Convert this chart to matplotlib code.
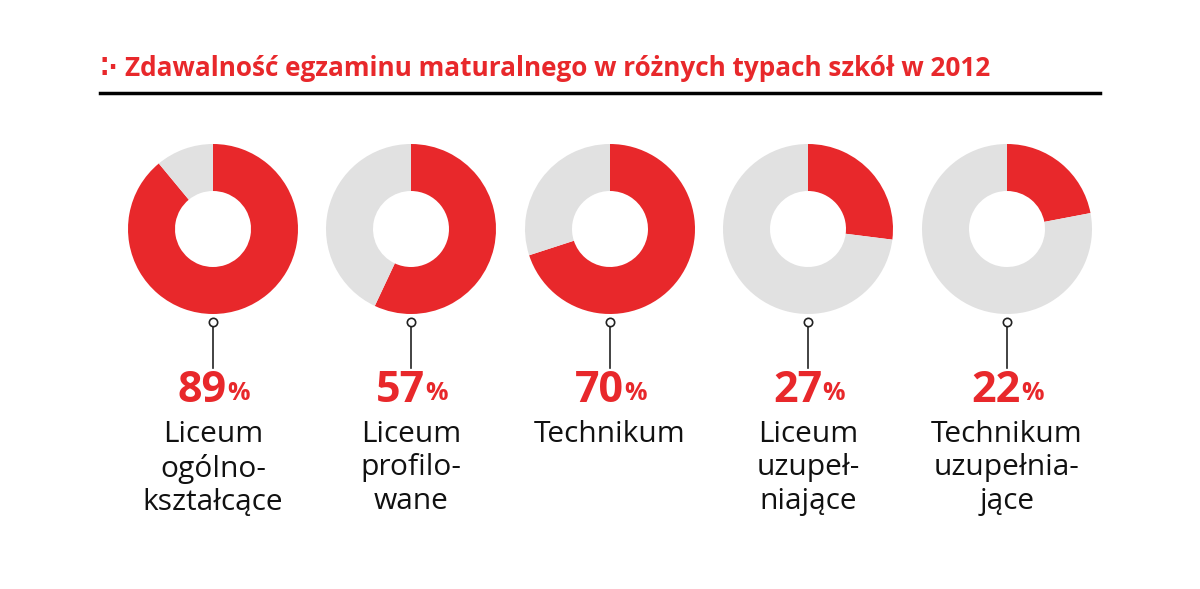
import matplotlib
matplotlib.use("Agg")
import matplotlib.pyplot as plt

title = "Zdawalność egzaminu maturalnego w różnych typach szkół w 2012"
values = [89, 57, 70, 27, 22]
labels = ["Liceum\nogólno-\nkształcące", "Liceum\nprofilo-\nwane", "Technikum",
          "Liceum\nuzupeł-\nniające", "Technikum\nuzupełnia-\njące"]

RED = "#e8282b"
GRAY = "#e1e1e1"

fig = plt.figure(figsize=(12, 5.89), dpi=100)
ax = fig.add_axes([0, 0, 1, 1])
ax.set_xlim(0, 1200)
ax.set_ylim(589, 0)
ax.set_aspect("equal")
ax.axis("off")

ax.text(100, 68, "⁚·", color=RED, fontsize=18, fontweight="bold", va="center", ha="left")
ax.text(125, 68, title, color=RED, fontsize=18.8, fontweight="bold", va="center", ha="left",
        family="Open Sans")
ax.plot([100, 1100], [93, 93], color="black", lw=2.5)

centers = [213, 411, 610, 808, 1007]
for cx, v, lab in zip(centers, values, labels):
    ax.pie([v, 100 - v], colors=[RED, GRAY], startangle=-90, counterclock=True,
           center=(cx, 229), radius=85, wedgeprops=dict(width=47, linewidth=0),
           frame=True)
    ax.plot([cx, cx], [324, 368], color="#222222", lw=1.2)
    ax.plot(cx, 322, "o", ms=6, mfc="white", mec="#222222", mew=1.2)
    ax.text(cx + 14, 390, str(v), color=RED, fontsize=31, fontweight="bold",
            ha="right", va="center", family="Open Sans")
    ax.text(cx + 14, 394, "%", color=RED, fontsize=18, fontweight="bold",
            ha="left", va="center", family="Open Sans")
    ax.text(cx, 420, lab, color="#111111", fontsize=21.5, ha="center", va="top",
            linespacing=1.2, family="Open Sans")

ax.set_xlim(0, 1200)
ax.set_ylim(589, 0)
ax.axis("off")
fig.savefig("out.png", dpi=100, facecolor="white")
